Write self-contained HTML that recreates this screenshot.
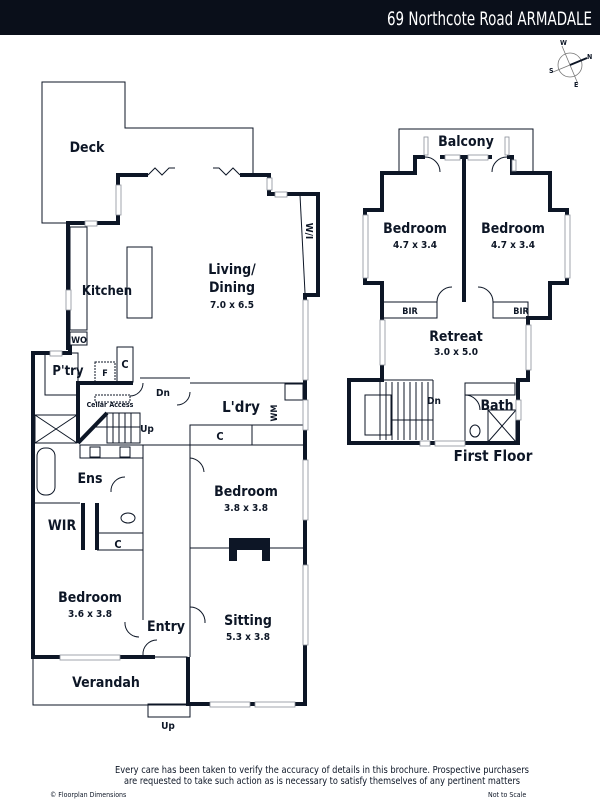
<!DOCTYPE html>
<html><head><meta charset="utf-8"><style>
html,body{margin:0;padding:0;background:#fff;}
svg{display:block;}
text{font-family:"DejaVu Sans Condensed","Liberation Sans Narrow","Liberation Sans",sans-serif;fill:#0d1626;}
.l text{font-weight:bold;}
</style></head><body>
<svg width="600" height="800" viewBox="0 0 600 800" xmlns="http://www.w3.org/2000/svg">
<rect x="0" y="0" width="600" height="35" fill="#0a0f1a"/>
<text x="592" y="25" text-anchor="end" font-size="19" style="fill:#fff" textLength="205" lengthAdjust="spacingAndGlyphs">69 Northcote Road ARMADALE</text>
<g stroke="#777" fill="none" stroke-width="0.8">
<circle cx="570" cy="65" r="12"/>
<line x1="562" y1="46" x2="578" y2="84"/>
<line x1="553" y1="72" x2="587" y2="58"/>
</g>
<line x1="570" y1="65" x2="587" y2="58" stroke="#0d1626" stroke-width="2"/>
<g font-size="7" font-weight="bold"><text x="560" y="45">W</text><text x="587" y="59">N</text><text x="549" y="73">S</text><text x="574" y="87">E</text></g>

<g stroke="#0d1626" stroke-width="1" fill="none">
<polyline points="67,223 42,223 42,82 125,82 125,128 253,128 253,175"/>
<rect x="70" y="227" width="17" height="103"/>
<rect x="70" y="332" width="17" height="13"/>
<rect x="127" y="247" width="25" height="71"/>
<line x1="300" y1="195" x2="305" y2="293"/>
<rect x="45" y="353" width="33" height="42"/>
<rect x="117" y="347" width="16" height="35"/>
<rect x="95" y="362" width="20" height="20" stroke-dasharray="2,1"/>
<rect x="95" y="395" width="35" height="7" stroke-dasharray="2,1"/>
<rect x="35" y="415" width="42" height="28"/>
<line x1="35" y1="415" x2="77" y2="443"/><line x1="77" y1="415" x2="35" y2="443"/>
<rect x="37" y="448" width="18" height="47" rx="8"/>
<line x1="140" y1="378" x2="190" y2="378"/>
<rect x="107" y="413" width="33" height="30"/>
<line x1="113" y1="413" x2="113" y2="443"/><line x1="119" y1="413" x2="119" y2="443"/><line x1="125" y1="413" x2="125" y2="443"/><line x1="131" y1="413" x2="131" y2="443"/>
<line x1="95" y1="427" x2="140" y2="427"/>
<rect x="80" y="445" width="63" height="13"/>
<rect x="90" y="447" width="10" height="10"/><rect x="120" y="447" width="10" height="10"/>
<rect x="190" y="425" width="62" height="20"/>
<line x1="252" y1="425" x2="305" y2="425"/>
<line x1="140" y1="445" x2="305" y2="445"/>
<rect x="285" y="384" width="18" height="16"/>
<line x1="33" y1="503" x2="80" y2="503"/>
<line x1="97" y1="533" x2="143" y2="533"/>
<line x1="97" y1="550" x2="143" y2="550"/>
<line x1="143" y1="445" x2="143" y2="620"/>
<line x1="190" y1="445" x2="190" y2="657"/>
<line x1="190" y1="383" x2="305" y2="383"/>
<line x1="190" y1="548" x2="305" y2="548"/>
<ellipse cx="128" cy="518" rx="7" ry="5"/>
<rect x="33" y="657" width="154" height="48"/>
<rect x="148" y="704" width="42" height="13"/>
<path d="M143 383 A13 13 0 0 1 130 396"/>
<path d="M190 392 A13 13 0 0 1 177 405"/>
<path d="M190 458 A15 15 0 0 1 204 472"/>
<path d="M125 477 A14 14 0 0 0 111 492"/>
<path d="M125 622 A14 14 0 0 0 139 637"/>
<path d="M190 607 A15 15 0 0 1 205 623"/>
<path d="M157 640 A14 14 0 0 0 143 655"/>
<polyline points="148,175 155,168 162,175 169,168 175,168"/>
<polyline points="240,175 233,168 226,175 219,168 213,168"/>
</g>
<g stroke="#0d1626" stroke-width="4" fill="none">
<polyline points="68,350 68,223 118,223 118,175 148,175"/>
<polyline points="240,175 269,175 269,194 318,194 318,295 305,295 305,704 188,704 188,657"/>
<polyline points="70,345 70,353 33,353 33,657 155,657"/>
<polyline points="78,443 78,383 133,383"/>
<line x1="78" y1="443" x2="107" y2="413"/>
<line x1="83" y1="503" x2="83" y2="550"/>
<line x1="97" y1="503" x2="97" y2="550"/>
</g>
<rect x="229" y="538" width="41" height="23" fill="#0d1626"/>
<rect x="237" y="550" width="25" height="11" fill="#fff"/>
<g fill="#fff" stroke="#8a8f98" stroke-width="0.8">
<rect x="66" y="290" width="5" height="20"/><rect x="303" y="300" width="5" height="80"/><rect x="303" y="400" width="5" height="30"/><rect x="303" y="460" width="5" height="60"/><rect x="303" y="565" width="5" height="80"/><rect x="60" y="655" width="60" height="5"/><rect x="210" y="702" width="40" height="5"/><rect x="255" y="702" width="40" height="5"/><rect x="116" y="185" width="5" height="30"/><rect x="85" y="221" width="12" height="5"/><rect x="50" y="351" width="12" height="5"/><rect x="267" y="178" width="5" height="12"/><rect x="275" y="192" width="12" height="5"/>
</g>

<g class="l" font-size="13" text-anchor="middle">
<text x="87" y="152" font-size="14">Deck</text>
<text x="107" y="295">Kitchen</text>
<text x="232" y="274" font-size="14">Living/</text>
<text x="232" y="292" font-size="14">Dining</text>
<text x="232" y="308" font-size="10">7.0 x 6.5</text>
<text x="79" y="343" font-size="9">WO</text>
<text x="68" y="375">P'try</text>
<text x="105" y="376" font-size="9">F</text>
<text x="125" y="368" font-size="11">C</text>
<text x="110" y="407" font-size="7" font-weight="normal">Cellar Access</text>
<text x="163" y="396" font-size="10">Dn</text>
<text x="147" y="432" font-size="10">Up</text>
<text x="241" y="412" font-size="15">L'dry</text>
<text x="220" y="440" font-size="11">C</text>
<text x="90" y="483" font-size="14">Ens</text>
<text x="62" y="530" font-size="14">WIR</text>
<text x="118" y="548" font-size="11">C</text>
<text x="246" y="496" font-size="14">Bedroom</text>
<text x="246" y="511" font-size="10">3.8 x 3.8</text>
<text x="90" y="602" font-size="14">Bedroom</text>
<text x="90" y="617" font-size="10">3.6 x 3.8</text>
<text x="166" y="631" font-size="14">Entry</text>
<text x="248" y="625" font-size="14">Sitting</text>
<text x="248" y="640" font-size="10">5.3 x 3.8</text>
<text x="106" y="687" font-size="14">Verandah</text>
<text x="168" y="729" font-size="10">Up</text>
</g>
<text x="0" y="0" font-size="10" font-weight="bold" transform="translate(306,231) rotate(90)" text-anchor="middle">W/I</text>
<text x="0" y="0" font-size="9" font-weight="bold" transform="translate(277,413) rotate(-90)" text-anchor="middle">WM</text>

<g stroke="#0d1626" stroke-width="1" fill="none">
<polyline points="399,173 399,129 533,129 533,173"/>
<rect x="383" y="302" width="54" height="16"/>
<rect x="493" y="302" width="35" height="16"/>
<line x1="349" y1="380" x2="433" y2="380"/>
<rect x="365" y="395" width="26" height="40"/>
<line x1="380" y1="382" x2="380" y2="440"/><line x1="386" y1="382" x2="386" y2="440"/><line x1="392" y1="382" x2="392" y2="440"/><line x1="398" y1="382" x2="398" y2="440"/><line x1="404" y1="382" x2="404" y2="440"/><line x1="410" y1="382" x2="410" y2="440"/><line x1="416" y1="382" x2="416" y2="440"/><line x1="422" y1="382" x2="422" y2="440"/><line x1="428" y1="382" x2="428" y2="440"/>
<line x1="391" y1="420" x2="433" y2="420"/>
<line x1="433" y1="380" x2="433" y2="440"/>
<rect x="465" y="383" width="50" height="12"/>
<rect x="488" y="410" width="28" height="32"/><line x1="488" y1="410" x2="516" y2="442"/><line x1="516" y1="410" x2="488" y2="442"/>
<line x1="465" y1="383" x2="465" y2="443"/>
<ellipse cx="475" cy="431" rx="5" ry="6"/>
<path d="M437 302 A15 15 0 0 1 452 287"/>
<path d="M493 302 A15 15 0 0 0 478 287"/>
<path d="M425 157 A15 15 0 0 1 440 172"/>
<path d="M507 157 A15 15 0 0 0 492 172"/>
<path d="M465 395 A15 15 0 0 1 480 410"/>
</g>
<g stroke="#0d1626" stroke-width="4" fill="none">
<polyline points="425,157 415,157 415,173 382,173 382,210 365,210 365,283 382,283 382,380 349,380 349,443 518,443 518,380 528,380 528,318 550,318 550,283 567,283 567,210 550,210 550,173 512,173 512,157 507,157"/>
<line x1="464" y1="157" x2="464" y2="302"/>
<line x1="440" y1="157" x2="492" y2="157"/>
</g>
<g fill="#fff" stroke="#8a8f98" stroke-width="0.8"><rect x="380" y="320" width="5" height="45"/><rect x="526" y="325" width="5" height="45"/><rect x="435" y="441" width="30" height="5"/><rect x="420" y="441" width="10" height="5"/><rect x="363" y="215" width="5" height="63"/><rect x="565" y="215" width="5" height="63"/><rect x="445" y="155" width="15" height="5"/><rect x="468" y="155" width="20" height="5"/><rect x="516" y="400" width="5" height="20"/><rect x="424" y="137" width="4" height="18"/><rect x="505" y="137" width="4" height="18"/><rect x="512" y="160" width="4" height="11"/></g>
<g class="l" font-size="14" text-anchor="middle">
<text x="466" y="146">Balcony</text>
<text x="415" y="233">Bedroom</text>
<text x="415" y="248" font-size="10">4.7 x 3.4</text>
<text x="513" y="233">Bedroom</text>
<text x="513" y="248" font-size="10">4.7 x 3.4</text>
<text x="410" y="314" font-size="9">BIR</text>
<text x="521" y="314" font-size="9">BIR</text>
<text x="456" y="341">Retreat</text>
<text x="456" y="355" font-size="10">3.0 x 5.0</text>
<text x="434" y="404" font-size="10">Dn</text>
<text x="497" y="410">Bath</text>
<text x="493" y="461" font-size="15">First Floor</text>
</g>
<g font-size="10" text-anchor="middle">
<text x="322" y="773" textLength="414" lengthAdjust="spacingAndGlyphs">Every care has been taken to verify the accuracy of details in this brochure. Prospective purchasers</text>
<text x="322" y="784" textLength="396" lengthAdjust="spacingAndGlyphs">are requested to take such action as is necessary to satisfy themselves of any pertinent matters</text>
</g>
<text x="50" y="797" font-size="7">© Floorplan Dimensions</text>
<text x="488" y="797" font-size="7">Not to Scale</text>
</svg>
</body></html>
